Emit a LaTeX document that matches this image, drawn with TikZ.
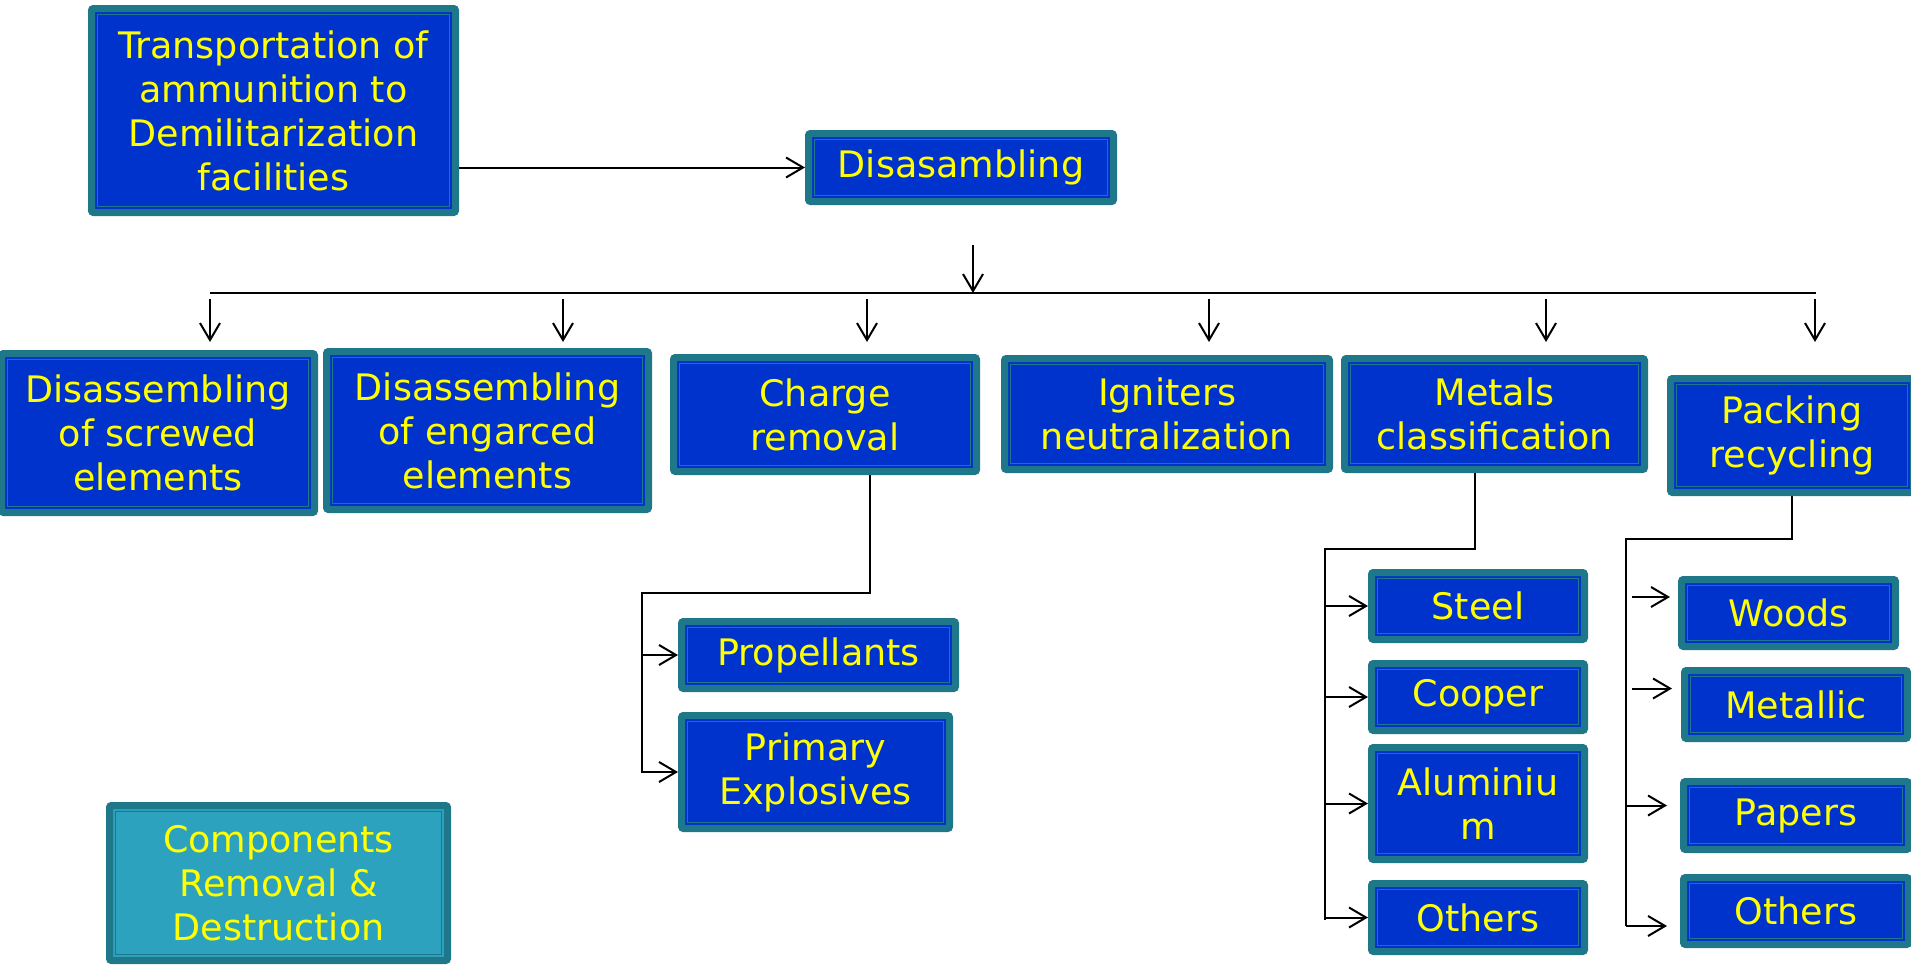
\documentclass[tikz,border=0pt]{standalone}
\usepackage{fontspec}
\setmainfont{DejaVu Sans}
\usetikzlibrary{arrows.meta}
\definecolor{boxblue}{RGB}{0,51,204}
\definecolor{boxedge}{RGB}{31,120,138}
\definecolor{boxtext}{RGB}{255,255,0}
\definecolor{keyteal}{RGB}{44,162,190}
\tikzset{
  stepbox/.style={draw=boxedge, line width=7pt, fill=boxblue, rounded corners=2pt,
    text=boxtext, align=center, inner sep=0pt, font=\fontsize{36.5}{44}\selectfont,
    path picture={\draw[boxedge, line width=1.5pt, sharp corners]
      ([shift={(6pt,-6pt)}]path picture bounding box.north west) rectangle
      ([shift={(-6pt,6pt)}]path picture bounding box.south east);}},
  keybox/.style={stepbox, fill=keyteal},
  link/.style={line width=2pt},
  arr/.style={link, -{Straight Barb[length=17pt,width=20pt]}},
}

\begin{document}
\begin{tikzpicture}[x=1pt, y=-1pt]
  \useasboundingbox (0,0) rectangle (1911,964);

  % Start
  \node[stepbox, minimum width=364pt, minimum height=204pt] (transport) at (273.5,110.5) {Transportation of\\ammunition to\\Demilitarization\\facilities};
  \node[stepbox, minimum width=305pt, minimum height=68pt] (disasm) at (961,167.5) {Disasambling};
  \draw[arr] (transport.east |- disasm.west) -- (disasm.west);

  % Main operations
  \node[stepbox, minimum width=313pt, minimum height=159pt] (screwed) at (158,433) {Disassembling\\of screwed\\elements};
  \node[stepbox, minimum width=322pt, minimum height=158pt] (engarced) at (487.5,430.5) {Disassembling\\of engarced\\elements};
  \node[stepbox, minimum width=303pt, minimum height=114pt] (charge) at (825,414.5) {Charge\\removal};
  \node[stepbox, minimum width=325pt, minimum height=111pt] (igniters) at (1167,414) {Igniters\\neutralization};
  \node[stepbox, minimum width=300pt, minimum height=111pt] (metals) at (1494.5,414) {Metals\\classification};
  \node[stepbox, minimum width=243pt, minimum height=114pt] (packing) at (1792,435.5) {Packing\\recycling};

  % Bus
  \coordinate (hub) at (973,245);
  \coordinate (busL) at (210,293);
  \coordinate (busR) at (1816,293);
  \coordinate (tipline) at (0,342);
  \draw[arr] (hub) -- (hub |- busL);
  \draw[link] (busL) -- (busR);
  \foreach \x/\n in {210/screwed, 563/engarced, 867/charge, 1209/igniters, 1546/metals, 1815/packing}
    \draw[arr] (\x,299) coordinate (from-\n) -- (from-\n |- tipline);

  % Charge removal
  \node[stepbox, minimum width=274pt, minimum height=67pt] (propellants) at (818.5,655) {Propellants};
  \node[stepbox, minimum width=268pt, minimum height=113pt] (primary) at (815.5,772) {Primary\\Explosives};
  \coordinate (cr1) at (870,593);
  \coordinate (cr2) at (642,593);
  \coordinate (cr3) at (642,773);
  \draw[link] (charge.south -| cr1) -- (cr1) -- (cr2) -- (cr3);
  \draw[arr] (cr2 |- propellants.west) -- (propellants.west);
  \draw[arr] (cr2 |- primary.west) -- (primary.west);

  % Metals
  \node[stepbox, minimum width=213pt, minimum height=67pt] (steel) at (1478,606) {Steel};
  \node[stepbox, minimum width=213pt, minimum height=67pt] (cooper) at (1478,697) {Cooper};
  \node[stepbox, minimum width=213pt, minimum height=112pt] (alum) at (1478,803.5) {Aluminiu\\m};
  \node[stepbox, minimum width=213pt, minimum height=68pt] (metothers) at (1478,917.5) {Others};
  \coordinate (mt1) at (1475,549);
  \coordinate (mt2) at (1325,549);
  \coordinate (mt3) at (1325,920);
  \draw[link] (metals.south -| mt1) -- (mt1) -- (mt2) -- (mt3);
  \foreach \n in {steel, cooper, alum, metothers}
    \draw[arr] (mt2 |- \n.west) -- (\n.west);

  % Packing
  \node[stepbox, minimum width=214pt, minimum height=67pt] (woods) at (1788.5,613) {Woods};
  \node[stepbox, minimum width=223pt, minimum height=68pt] (metallic) at (1796,704.5) {Metallic};
  \node[stepbox, minimum width=225pt, minimum height=68pt] (papers) at (1796,815.5) {Papers};
  \node[stepbox, minimum width=225pt, minimum height=67pt] (packothers) at (1796,911) {Others};
  \coordinate (pk1) at (1792,539);
  \coordinate (pk2) at (1626,539);
  \coordinate (pk3) at (1626,926);
  \draw[link] (packing.south -| pk1) -- (pk1) -- (pk2) -- (pk3);
  \draw[arr, shorten <=6pt, shorten >=8pt] ([yshift=16pt]woods.west -| pk2) -- ([yshift=16pt]woods.west);
  \draw[arr, shorten <=6pt, shorten >=9pt] ([yshift=16pt]metallic.west -| pk2) -- ([yshift=16pt]metallic.west);
  \draw[arr, shorten >=13pt] ([yshift=10pt]papers.west -| pk2) -- ([yshift=10pt]papers.west);
  \draw[arr, shorten >=13pt] ([yshift=-15pt]packothers.west -| pk2) -- ([yshift=-15pt]packothers.west);

  % Key
  \node[keybox, minimum width=338pt, minimum height=155pt] (components) at (278.5,883) {Components\\Removal \&\\Destruction};
\end{tikzpicture}
\end{document}
